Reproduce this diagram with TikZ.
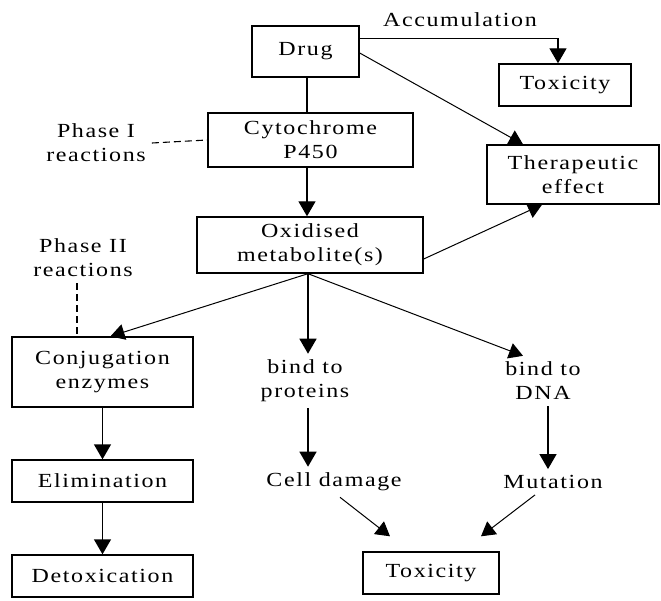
\documentclass[tikz,border=0pt]{standalone}
\usepackage{fontspec}
\setmainfont{Liberation Serif}[FakeStretch=1.2,LetterSpace=8]
\usetikzlibrary{arrows.meta}
\tikzset{
  box/.style={draw, line width=1.4pt, inner sep=0pt, align=center, font=\fontsize{20}{24}\selectfont},
  lbl/.style={inner sep=6pt, align=center, font=\fontsize{20}{24}\selectfont},
  arr/.style={line width=1.4pt, -{Triangle[width=17pt,length=15pt]}},
  thin arr/.style={line width=1pt, -{Triangle[width=16pt,length=14pt]}},
  plain/.style={line width=1.4pt},
  dash line/.style={line width=1.1pt, dash pattern=on 7pt off 4pt}
}
\begin{document}
\begin{tikzpicture}[x=1pt,y=-1pt]
\useasboundingbox (0,0) rectangle (661,601);
% boxes
\node[box, minimum width=107pt, minimum height=51pt] (drug) at (305.5,51.5) {Drug};
\node[box, minimum width=132pt, minimum height=42pt] (tox1) at (565,85) {Toxicity};
\node[box, minimum width=205pt, minimum height=54pt] (cyp) at (310.5,140) {Cytochrome\\P450};
\node[box, minimum width=172pt, minimum height=59pt] (ther) at (573,174.5) {Therapeutic\\effect};
\node[box, minimum width=226pt, minimum height=56pt] (oxi) at (310,245) {Oxidised\\metabolite(s)};
\node[box, minimum width=181pt, minimum height=70pt] (conj) at (102.5,372) {Conjugation\\enzymes};
\node[box, minimum width=181pt, minimum height=42pt] (elim) at (102.5,481) {Elimination};
\node[box, minimum width=181pt, minimum height=42pt] (detox) at (102.5,576) {Detoxication};
\node[box, minimum width=136pt, minimum height=42pt] (tox2) at (431,573) {Toxicity};
% plain labels
\node[lbl] (accum) at (460,20) {Accumulation};
\node[lbl] (phase1) at (96,143) {Phase I\\reactions};
\node[lbl] (phase2) at (83,258) {Phase II\\reactions};
\node[lbl] (prot) at (305,381) {bind to\\proteins};
\node[lbl] (dna) at (543,381) {bind to\\DNA};
\node[lbl] (cell) at (334,482) {Cell damage};
\node[lbl] (mut) at (553,482) {Mutation};
% connectors
\draw[plain] ([xshift=1.5pt]drug.south) -- ([xshift=1.5pt]drug.south |- cyp.north);
\draw[arr] ([xshift=1.5pt]drug.south |- cyp.south) -- ([xshift=1.5pt]drug.south |- oxi.north);
\draw[arr] ([yshift=-13pt]drug.north east) -| ([xshift=-7pt]tox1.north);
\draw[thin arr] ([yshift=-1.5pt]drug.east) -- ([xshift=-50pt]ther.north);
\draw[thin arr] ([yshift=-14pt]oxi.east) -- ([xshift=-31pt]ther.south);
\draw[dash line] (phase1.east) -- (cyp.west);
\draw[dash line] ([xshift=-6pt]phase2.south) -- ([xshift=-6pt]phase2.south |- conj.north);
\draw[thin arr] ([xshift=-2pt]oxi.south) -- ([xshift=8pt]conj.north);
\draw[arr] ([xshift=-2pt]oxi.south) -- ([xshift=-2pt]oxi.south |- prot.north);
\draw[thin arr] ([xshift=-2pt]oxi.south) -- ([xshift=-20pt]dna.north);
\draw[arr] (conj.south) -- (elim.north);
\draw[arr] (elim.south) -- (detox.north);
\draw[arr] ([xshift=3pt]prot.south) -- ([xshift=3pt]prot.south |- cell.north);
\draw[arr] ([xshift=5pt]dna.south) -- ([xshift=5pt]dna.south |- mut.north);
\draw[thin arr] ([xshift=6pt]cell.south) -- ([xshift=-41pt,yshift=15pt]tox2.north);
\draw[thin arr] ([xshift=-18pt]mut.south) -- ([xshift=50pt,yshift=15pt]tox2.north);
\end{tikzpicture}
\end{document}
